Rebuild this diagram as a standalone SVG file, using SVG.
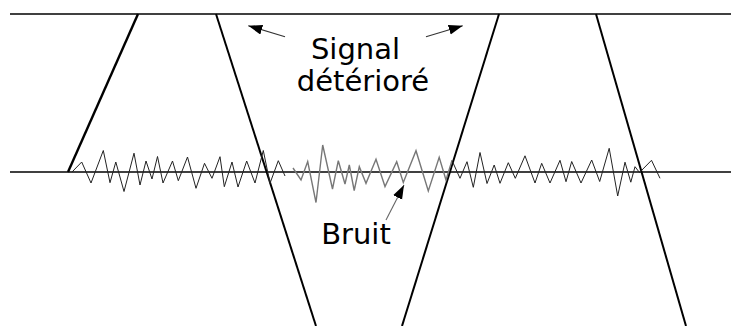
<svg xmlns="http://www.w3.org/2000/svg" width="731" height="326" viewBox="0 0 731 326">
<style>
.axis{stroke:#000;stroke-width:1.3;fill:none}
.sig{stroke:#000;stroke-width:2;fill:none;stroke-linecap:butt}
.noiseK{stroke:#222;stroke-width:1;fill:none;stroke-linejoin:miter}
.noiseG{stroke:#777;stroke-width:1.4;fill:none;stroke-linejoin:miter}
.lbl{font-family:"DejaVu Sans",sans-serif;font-size:29px;fill:#000;text-anchor:middle}
.arr{stroke:#333;stroke-width:1.1;fill:none}
</style>
<defs>
<marker id="ah" markerUnits="userSpaceOnUse" markerWidth="16" markerHeight="12" refX="14" refY="5" orient="auto">
<path d="M0,0 L14,5 L0,10 Z" fill="#000"/>
</marker>
</defs>
<rect width="731" height="326" fill="#fff"/>
<g id="axes">
<line class="axis" x1="10" y1="14" x2="731" y2="14"/>
<line class="axis" x1="10" y1="172" x2="731" y2="172"/>
</g>
<g id="signal">
<line class="sig" x1="68" y1="172" x2="138" y2="14" style="stroke-width:2.4"/>
<line class="sig" x1="216" y1="14" x2="316" y2="326"/>
<line class="sig" x1="402" y1="326" x2="499" y2="14"/>
<line class="sig" x1="596" y1="14" x2="686" y2="326"/>
</g>
<g id="noise">
<polyline class="noiseK" points="72,172 81.7,162 91,183 103.3,150.5 110,182.7 115.8,162 124,191.5 134,153.2 140,185 146,161 152,179 157.5,156.5 163,183 172.5,161 178.3,180.7 187.5,157 196,188.3 204.5,163.3 212,178.3 220,156.7 224.3,186.7 232,162 238,187 246.7,161 255,183 263.3,150.5 270,183.3 278.3,160.7 285,176"/>
<polyline class="noiseG" points="293,168 301,180 307.7,161.5 316,202.5 322.7,145 332.5,189 338.3,160.7 345,184 349.3,165 354.2,190.5 359.3,166.7 366,183.3 376,159.3 385,186.5 396.7,161.7 403.3,182.5 416,150.7 428.3,191 439.2,157.3 446,180 452,160.5"/>
<polyline class="noiseK" points="452,160.5 460,178.3 467,161.7 473.3,187.3 480,152.5 487,183.5 494.2,165 500,183.3 508.3,162.7 515.3,178.3 525,155.8 535,183 541.7,163.3 550,183 560,160.3 566,181.7 571.7,161.5 581,183 591.7,160 599.7,181.5 609.2,148.3 617.7,196 625,162.2 630.8,182.2 635,166.7 639.5,172.5 651.5,160.3 660,178.3"/>
</g>
<g id="label-signal">
<text class="lbl" x="355.5" y="59">Signal</text>
<text class="lbl" x="363" y="91">détérioré</text>
</g>
<g id="label-bruit">
<text class="lbl" x="356" y="243.5">Bruit</text>
</g>
<g id="connectors">
<line class="arr" x1="285" y1="36.7" x2="248.3" y2="25.7" marker-end="url(#ah)"/>
<line class="arr" x1="426" y1="36.7" x2="462.7" y2="25.7" marker-end="url(#ah)"/>
<line class="arr" x1="386" y1="220" x2="404" y2="185" marker-end="url(#ah)" style="stroke:#666"/>
</g>
</svg>
